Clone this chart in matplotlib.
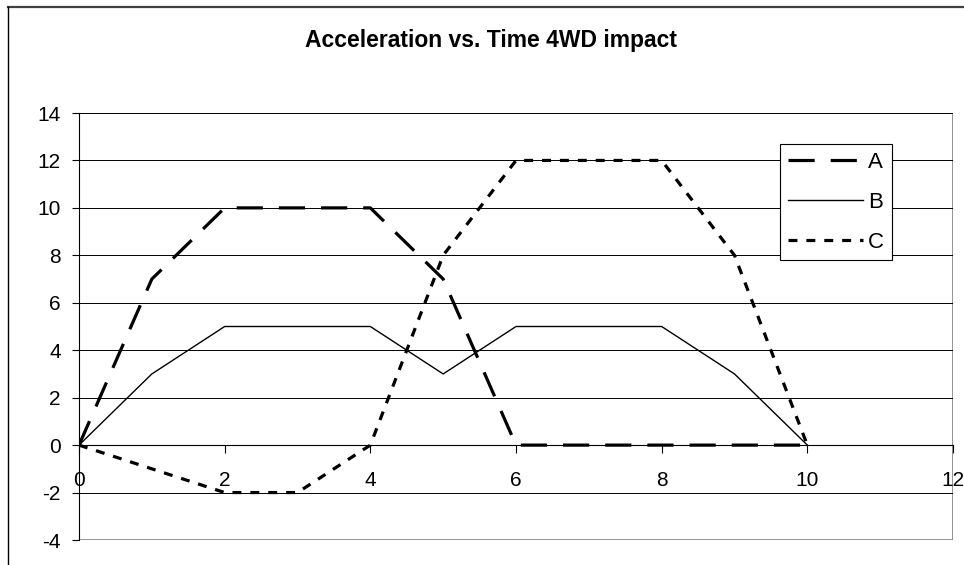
"""
Acceleration vs. Time 4WD impact - line chart in the old Excel style.
"""

import matplotlib
matplotlib.use("Agg")
import matplotlib.pyplot as plt
from matplotlib.patches import Rectangle
from matplotlib.lines import Line2D

plt.rcParams['font.family'] = ['Liberation Sans', 'DejaVu Sans']
plt.rcParams['axes.unicode_minus'] = False

time = [0, 1, 2, 3, 4, 5, 6, 7, 8, 9, 10]
acc_a = [0, 7, 10, 10, 10, 7, 0, 0, 0, 0, 0]
acc_b = [0, 3, 5, 5, 5, 3, 5, 5, 5, 3, 0]
acc_c = [0, -1, -2, -2, 0, 8, 12, 12, 12, 8, 0]

xticks = [0, 2, 4, 6, 8, 10, 12]
yticks = [-4, -2, 0, 2, 4, 6, 8, 10, 12, 14]

fig = plt.figure(figsize=(9.64, 5.65), dpi=100)
ax = fig.add_axes([79/964, 25/565, (953-79)/964, (540-113)/565])

# outer chart border (only top and left edges fall inside the image)
fig.add_artist(Line2D([8/964, 1.0], [1 - 6.5/565, 1 - 6.5/565], color='#404040', lw=1.6))
fig.add_artist(Line2D([8/964, 8/964], [0, 1 - 6.5/565], color='black', lw=1.0))

ax.plot(time, acc_a, color='black', lw=2.3, dashes=(8.2, 5), label='A')
ax.plot(time, acc_b, color='black', lw=1.0, label='B')
ax.plot(time, acc_c, color='black', lw=2.3, dashes=(2.8, 2.8), label='C')

ax.set_xlim(0, 12)
ax.set_ylim(-4, 14)
ax.set_xticks(xticks)
ax.set_yticks(yticks)
ax.grid(axis='y', color='black', lw=0.7)
ax.set_axisbelow(True)

for s in ['top', 'right']:
    ax.spines[s].set_visible(False)
ax.spines['bottom'].set_position(('data', 0))
ax.spines['bottom'].set_linewidth(0.8)
ax.spines['left'].set_linewidth(0.8)
ax.add_patch(Rectangle((0, 0), 1, 1, transform=ax.transAxes, fill=False,
                       edgecolor='#808080', lw=1.2, zorder=0.5))

ax.tick_params(axis='x', direction='out', length=6, width=0.8, pad=13, labelsize=15)
ax.tick_params(axis='y', direction='out', length=5, width=0.8, pad=8, labelsize=15)

fig.text(491/964, 1 - 40/565, 'Acceleration vs. Time 4WD impact', ha='center', va='center',
         fontsize=16.5, fontweight='bold')

leg = ax.legend(loc='upper left', bbox_to_anchor=((780-79)/874, (540-144)/427),
                fontsize=16, frameon=True, fancybox=False, framealpha=1,
                edgecolor='black', handlelength=3.4, handletextpad=0.2,
                borderpad=0.35, labelspacing=0.85, borderaxespad=0)
leg.get_frame().set_linewidth(0.8)

fig.savefig('out.png', dpi=100)
